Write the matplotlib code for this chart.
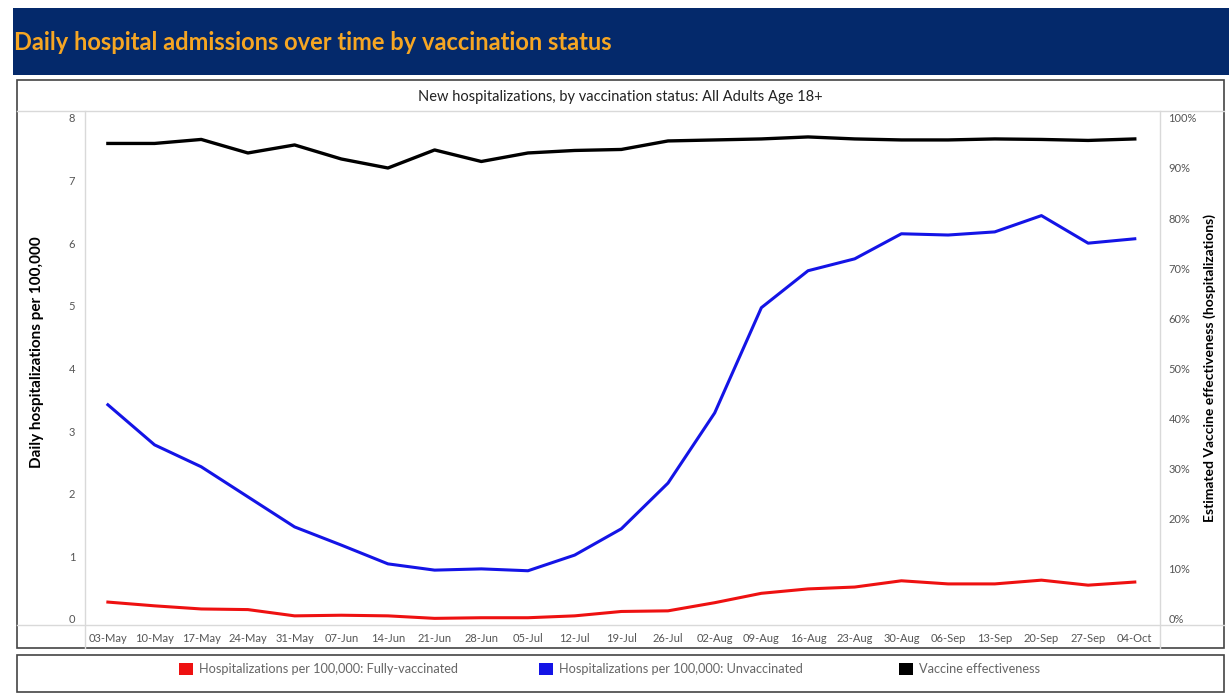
import matplotlib.pyplot as plt
from matplotlib.patches import Rectangle, Patch
from matplotlib.lines import Line2D
from matplotlib.ticker import PercentFormatter

weeks = ['03-May', '10-May', '17-May', '24-May', '31-May', '07-Jun', '14-Jun', '21-Jun',
         '28-Jun', '05-Jul', '12-Jul', '19-Jul', '26-Jul', '02-Aug', '09-Aug', '16-Aug',
         '23-Aug', '30-Aug', '06-Sep', '13-Sep', '20-Sep', '27-Sep', '04-Oct']

fully_vacc = [0.27, 0.21, 0.16, 0.15, 0.05, 0.06, 0.05, 0.01, 0.02, 0.02, 0.05, 0.12,
              0.13, 0.26, 0.41, 0.48, 0.51, 0.61, 0.56, 0.56, 0.62, 0.54, 0.59]

unvacc = [3.42, 2.78, 2.43, 1.95, 1.47, 1.18, 0.88, 0.78, 0.80, 0.77, 1.02, 1.44,
          2.17, 3.29, 4.97, 5.56, 5.75, 6.15, 6.13, 6.18, 6.44, 6.00, 6.07]

effectiveness = [94.9, 94.9, 95.7, 93.0, 94.6, 91.8, 90.0, 93.6, 91.3, 93.0, 93.5, 93.7,
                 95.4, 95.6, 95.8, 96.2, 95.8, 95.6, 95.6, 95.8, 95.7, 95.5, 95.8]

series_labels = ['Hospitalizations per 100,000: Fully-vaccinated',
                 'Hospitalizations per 100,000: Unvaccinated',
                 'Vaccine effectiveness']
series_colors = ['#ee1111', '#1414e6', 'black']

W, H = 1229, 700
plt.rcParams['font.family'] = ['Lato', 'DejaVu Sans']

fig = plt.figure(figsize=(W / 100, H / 100), dpi=100)


def fx(px):
    return px / W


def fy(py):
    return 1 - py / H


# title banner
fig.patches.append(Rectangle((fx(13), fy(75)), fx(1229) - fx(13), fy(8) - fy(75),
                             transform=fig.transFigure, facecolor='#04296b',
                             edgecolor='none', zorder=0))
fig.text(fx(14), fy(43), 'Daily hospital admissions over time by vaccination status',
         color='#f6a623', fontsize=17, fontweight='bold', va='center', ha='left')

# chart box and legend box
for top, bot in [(80, 648), (655, 692)]:
    fig.patches.append(Rectangle((fx(17), fy(bot)), fx(1224) - fx(17), fy(top) - fy(bot),
                                 transform=fig.transFigure, facecolor='none',
                                 edgecolor='#444444', linewidth=1.2, zorder=0))

fig.text(fx(620), fy(97), 'New hospitalizations, by vaccination status: All Adults Age 18+',
         fontsize=10.5, color='#222222', ha='center', va='center')

# light separator lines
grid_c = '#d9d9d9'
fig.add_artist(Line2D([fx(17), fx(1224)], [fy(111), fy(111)], color=grid_c, lw=1))
fig.add_artist(Line2D([fx(17), fx(1224)], [fy(625), fy(625)], color=grid_c, lw=1))
fig.add_artist(Line2D([fx(85), fx(85)], [fy(111), fy(648)], color=grid_c, lw=1))
fig.add_artist(Line2D([fx(1160), fx(1160)], [fy(111), fy(648)], color=grid_c, lw=1))

ax = fig.add_axes([fx(85), fy(625), fx(1160) - fx(85), fy(111) - fy(625)])
ax2 = ax.twinx()

x = range(len(weeks))
ax.plot(x, fully_vacc, color=series_colors[0], lw=2.2, zorder=3)
ax.plot(x, unvacc, color=series_colors[1], lw=2.2, zorder=3)
ax2.plot(x, effectiveness, color=series_colors[2], lw=2.4)

ax.set_xlim(-0.49, 22.54)
ax.set_ylim(-0.096, 8.11)
ax2.set_ylim(-0.096 * 12.5, 8.11 * 12.5)
ax.set_yticks(range(0, 9))
ax2.set_yticks(range(0, 101, 10))
ax2.yaxis.set_major_formatter(PercentFormatter(decimals=0))
ax.set_xticks(list(x))
ax.set_xticklabels(weeks)

for a in (ax, ax2):
    for s in a.spines.values():
        s.set_visible(False)
    a.patch.set_visible(False)
ax.tick_params(axis='both', length=0, labelsize=8, labelcolor='#555555')
ax.tick_params(axis='x', pad=6)
ax.tick_params(axis='y', pad=7)
ax2.tick_params(axis='y', length=0, labelsize=8, labelcolor='#555555', pad=6)

ax.set_ylabel('Daily hospitalizations per 100,000', fontsize=11, fontweight='bold')
ax2.set_ylabel('Estimated Vaccine effectiveness (hospitalizations)', fontsize=10,
               fontweight='bold')
ax.yaxis.label.set_va('center')
ax2.yaxis.label.set_va('center')
ax.yaxis.set_label_coords(fx(37 - 85) * W / 1075, 0.531)
ax2.yaxis.set_label_coords((1210 - 85) / 1075, 0.5)

# legend: three equal-width columns like the source
for i, (lab, col) in enumerate(zip(series_labels, series_colors)):
    leg = fig.legend([Patch(facecolor=col, edgecolor='none')], [lab], loc='center left',
                     bbox_to_anchor=(fx(179 + 360 * i), fy(669)), frameon=False,
                     fontsize=9.2, handlelength=1.1, handleheight=1.1,
                     handletextpad=0.45, borderpad=0, borderaxespad=0)
    for t in leg.get_texts():
        t.set_color('#666666')

fig.savefig('out.png', dpi=100)
